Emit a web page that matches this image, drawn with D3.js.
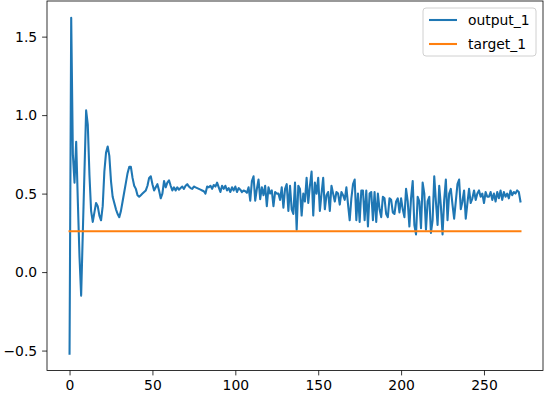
<!DOCTYPE html>
<html>
<head>
<meta charset="utf-8">
<script src="https://cdn.jsdelivr.net/npm/d3@7"></script>
<style>
  html, body { margin: 0; padding: 0; background: #fff; }
  svg { display: block; }
  text { font-family: "DejaVu Sans", sans-serif; }
</style>
</head>
<body>
<svg id="chart" width="547" height="400"></svg>
<script>
// ---- data ----
const seriesNames = ["output_1", "target_1"];
const output1 = [
  -0.52, 1.62, 0.75, 0.57, 0.83, 0.45, 0.10, -0.15, 0.25, 0.64,
  1.03, 0.94, 0.62, 0.39, 0.32, 0.38, 0.44, 0.42, 0.36, 0.33,
  0.42, 0.64, 0.76, 0.80, 0.74, 0.58, 0.48, 0.44, 0.40, 0.37,
  0.35, 0.39, 0.45, 0.51, 0.57, 0.63, 0.67, 0.67, 0.60, 0.55,
  0.53, 0.49, 0.48, 0.49, 0.50, 0.51, 0.52, 0.55, 0.60, 0.61,
  0.56, 0.52, 0.54, 0.56, 0.52, 0.47, 0.50, 0.58, 0.54, 0.57,
  0.585, 0.55, 0.52, 0.54, 0.52, 0.54, 0.525, 0.535, 0.545, 0.53,
  0.55, 0.56, 0.545, 0.535, 0.53, 0.545, 0.54, 0.535, 0.53, 0.525,
  0.52, 0.515, 0.50, 0.545, 0.54, 0.55, 0.53, 0.555, 0.545, 0.57,
  0.54, 0.51, 0.55, 0.53, 0.55, 0.52, 0.535, 0.51, 0.54, 0.52,
  0.545, 0.51, 0.535, 0.525, 0.51, 0.52, 0.515, 0.505, 0.54, 0.455,
  0.58, 0.61, 0.455, 0.53, 0.59, 0.465, 0.54, 0.49, 0.55, 0.42,
  0.54, 0.50, 0.52, 0.42, 0.51, 0.50, 0.50, 0.46, 0.54, 0.41,
  0.53, 0.56, 0.39, 0.55, 0.40, 0.37, 0.57, 0.27, 0.55, 0.53,
  0.36, 0.50, 0.45, 0.60, 0.44, 0.55, 0.64, 0.36, 0.57, 0.50,
  0.60, 0.39, 0.50, 0.60, 0.40, 0.49, 0.51, 0.39, 0.55, 0.50,
  0.45, 0.51, 0.50, 0.43, 0.51, 0.49, 0.46, 0.54, 0.43, 0.33,
  0.47, 0.56, 0.59, 0.33, 0.50, 0.32, 0.52, 0.52, 0.33, 0.52,
  0.29, 0.50, 0.51, 0.33, 0.51, 0.32, 0.50, 0.40, 0.35, 0.48,
  0.47, 0.37, 0.35, 0.47, 0.46, 0.38, 0.37, 0.45, 0.47, 0.38,
  0.47, 0.40, 0.35, 0.53, 0.45, 0.29, 0.47, 0.58, 0.30, 0.24,
  0.48, 0.45, 0.28, 0.57, 0.50, 0.27, 0.45, 0.48, 0.25, 0.33,
  0.61, 0.45, 0.30, 0.55, 0.42, 0.24, 0.46, 0.59, 0.33, 0.50,
  0.53, 0.43, 0.34, 0.45, 0.56, 0.59, 0.40, 0.45, 0.52, 0.34,
  0.44, 0.53, 0.44, 0.47, 0.52, 0.46, 0.50, 0.52, 0.48, 0.50,
  0.44, 0.51, 0.48, 0.48, 0.51, 0.46, 0.50, 0.45, 0.51, 0.47,
  0.52, 0.46, 0.51, 0.48, 0.50, 0.47, 0.52, 0.49, 0.51, 0.50,
  0.52, 0.51, 0.45
];
const target1 = output1.map(() => 0.26);
const xTicks = [0, 50, 100, 150, 200, 250];
const yTicks = [-0.5, 0.0, 0.5, 1.0, 1.5];
const colors = ["#1f77b4", "#ff7f0e"];

// ---- layout ----
const M = { left: 47, right: 543, top: 1, bottom: 370.5 };
const svg = d3.select("#chart");

const n = output1.length;
const xMin = 0, xMax = n - 1;
const xPad = (xMax - xMin) * 0.05;
const x = d3.scaleLinear().domain([xMin - xPad, xMax + xPad]).range([M.left, M.right]);

const allY = output1.concat(target1);
const yLo = d3.min(allY), yHi = d3.max(allY);
const yPad = (yHi - yLo) * 0.05;
const y = d3.scaleLinear().domain([yLo - yPad, yHi + yPad]).range([M.bottom, M.top]);

const fmtY = d => d3.format(".1f")(d).replace("-", "\u2212");

// axes
const xAxis = d3.axisBottom(x).tickValues(xTicks).tickSize(4.9).tickPadding(4.9).tickFormat(d3.format("d"));
const yAxis = d3.axisLeft(y).tickValues(yTicks).tickSize(4.9).tickPadding(4.9).tickFormat(fmtY);

const gx = svg.append("g").attr("transform", `translate(0,${M.bottom})`).call(xAxis);
const gy = svg.append("g").attr("transform", `translate(${M.left},0)`).call(yAxis);
[gx, gy].forEach(g => {
  g.select(".domain").remove();
  g.selectAll(".tick line").attr("stroke", "#000").attr("stroke-width", 0.8);
  g.selectAll(".tick text").attr("fill", "#000").style("font-size", "13.9px").style("font-family", "DejaVu Sans, sans-serif");
});

// lines
const line = d3.line().x((d, i) => x(i)).y(d => y(d));
svg.append("path").datum(output1).attr("fill", "none").attr("stroke", colors[0])
  .attr("stroke-width", 2.08).attr("stroke-linejoin", "round").attr("stroke-linecap", "square").attr("d", line);
svg.append("path").datum(target1).attr("fill", "none").attr("stroke", colors[1])
  .attr("stroke-width", 2.08).attr("stroke-linecap", "square").attr("d", line);

// frame
svg.append("rect").attr("x", M.left).attr("y", M.top).attr("width", M.right - M.left).attr("height", M.bottom - M.top)
  .attr("fill", "none").attr("stroke", "#000").attr("stroke-width", 0.8);

// legend
const lg = svg.append("g");
const lgW = 113, lgH = 48;
const lgX = M.right - 7 - lgW, lgY = M.top + 7;
lg.append("rect").attr("x", lgX).attr("y", lgY).attr("width", lgW).attr("height", lgH)
  .attr("rx", 3).attr("fill", "#fff").attr("fill-opacity", 0.8).attr("stroke", "#d0d0d0").attr("stroke-width", 1);
seriesNames.forEach((name, k) => {
  const cy = lgY + 12 + k * 24;
  lg.append("line").attr("x1", lgX + 6).attr("x2", lgX + 34).attr("y1", cy).attr("y2", cy)
    .attr("stroke", colors[k]).attr("stroke-width", 2.08);
  lg.append("text").attr("x", lgX + 45).attr("y", cy).attr("dy", "0.35em")
    .style("font-size", "13.9px").attr("fill", "#000").text(name);
});
</script>
</body>
</html>
